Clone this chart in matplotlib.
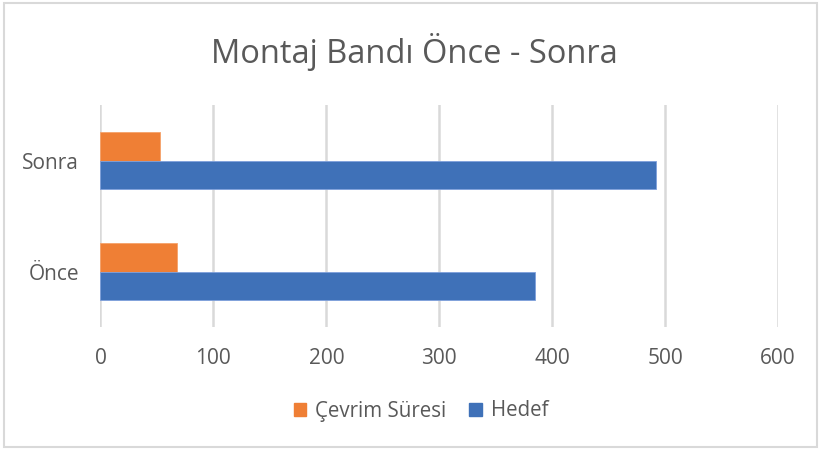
import matplotlib
matplotlib.use("Agg")
import matplotlib.pyplot as plt
from matplotlib.patches import Patch, Rectangle
import numpy as np

plt.rcParams['font.family'] = ['Open Sans', 'DejaVu Sans']

# veriler
kategoriler = ["Önce", "Sonra"]
cevrim_suresi = [68, 53]
hedef = [385, 492]
x_ticks = [0, 100, 200, 300, 400, 500, 600]

TURUNCU = "#EF7F35"
MAVI = "#3F71B8"
GRI_YAZI = "#595959"
GRI_CIZGI = "#D9D9D9"

fig = plt.figure(figsize=(8.21, 4.5), dpi=100)
fig.patches.append(Rectangle((0.005, 0.007), 0.99, 0.986, transform=fig.transFigure,
                             fill=False, edgecolor=GRI_CIZGI, linewidth=1.5))

ax = fig.add_axes([0.1224, 0.2733, 0.8252, 0.4933])

y = np.arange(len(kategoriler))
h = 0.256
ax.barh(y + h / 2, cevrim_suresi, height=h, color=TURUNCU, edgecolor="#F5A26A", linewidth=0.6, zorder=3)
ax.barh(y - h / 2, hedef, height=h, color=MAVI, edgecolor="#7EA0DB", linewidth=0.6, zorder=3)

ax.set_xlim(0, 600)
ax.set_ylim(-0.5, 1.5)
ax.set_xticks(x_ticks)
ax.set_yticks(y)
ax.set_yticklabels(kategoriler)
ax.grid(axis="x", color=GRI_CIZGI, linewidth=1.8, zorder=0)
for s in ax.spines.values():
    s.set_visible(False)
ax.tick_params(axis="both", length=0, labelsize=15, colors=GRI_YAZI)
ax.tick_params(axis="x", pad=15)
ax.tick_params(axis="y", pad=15.5)

fig.text(0.505, 1 - 52 / 450, "Montaj Bandı Önce - Sonra", ha="center", va="center",
         fontsize=23.5, color=GRI_YAZI)

handles = [Patch(color=TURUNCU, label="Çevrim Süresi"), Patch(color=MAVI, label="Hedef")]
fig.legend(handles=handles, loc="center", bbox_to_anchor=(0.513, 1 - 411 / 450), ncol=2,
           frameon=False, fontsize=14.8, labelcolor=GRI_YAZI, handlelength=0.6,
           handleheight=0.6, handletextpad=0.45, columnspacing=1.1)

plt.savefig("out.png", dpi=100)
